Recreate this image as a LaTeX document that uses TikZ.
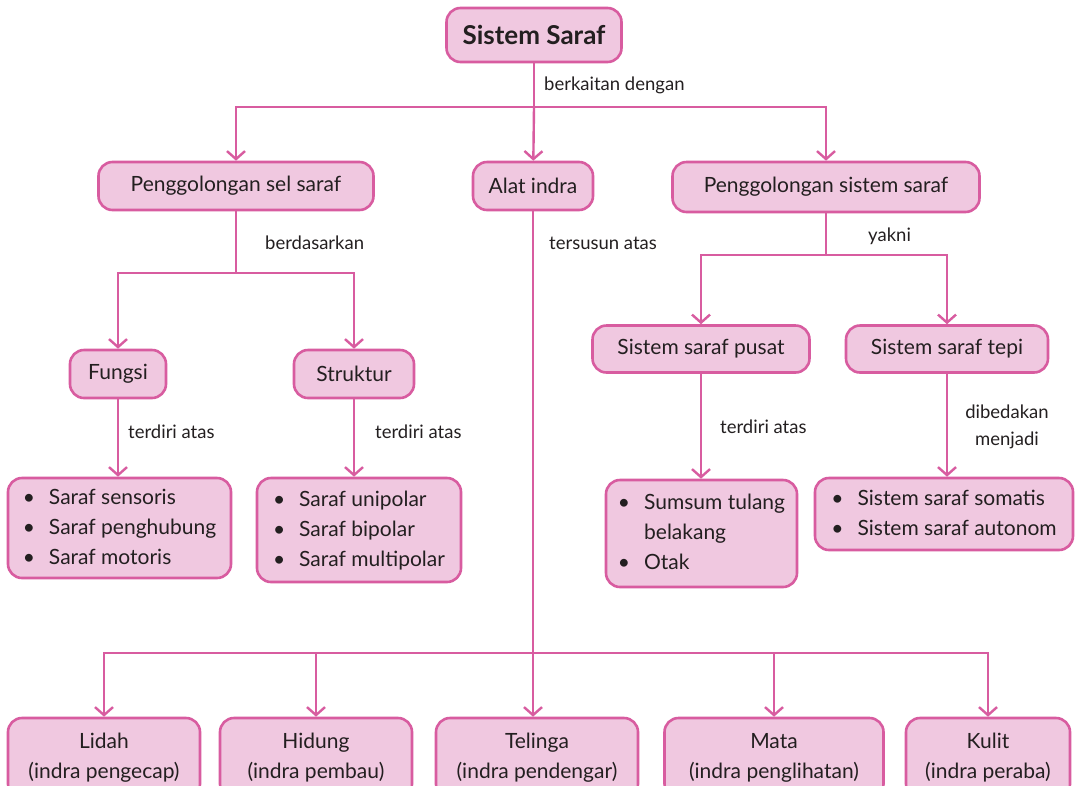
\documentclass[tikz,border=0pt]{standalone}
\usepackage{fontspec}
\setmainfont{Lato}
\usetikzlibrary{arrows.meta}
\definecolor{pk}{HTML}{D85CA0}
\definecolor{pkfill}{HTML}{F0C8E0}
\definecolor{txt}{HTML}{231F20}
\tikzset{
  box/.style={draw=pk, line width=2.6pt, fill=pkfill, rounded corners=14pt,
    inner sep=0pt, text=txt, align=center, font=\fontsize{21}{30}\selectfont},
  ln/.style={draw=pk, line width=2.4pt},
  arr/.style={ln, -{Straight Barb[length=8pt,width=18pt]}},
  lbl/.style={anchor=west, text=txt, inner sep=0pt, font=\fontsize{18.5}{27}\selectfont}
}
\newcommand{\blist}[1]{\begin{tabular}{@{}l@{\hspace{14pt}}l@{}}#1\end{tabular}}
\begin{document}
\begin{tikzpicture}[x=1pt,y=-1pt]
\path[fill=white] (0,0) rectangle (1075,785);
\useasboundingbox (0,0) rectangle (1075,785);
% nodes
\node[box, minimum width=175pt, minimum height=54pt, font=\fontsize{26}{30}\selectfont\bfseries] (top) at (534,35) {Sistem Saraf};
\node[box, minimum width=275pt, minimum height=48pt] (psel) at (236,186) {Penggolongan sel saraf};
\node[box, minimum width=120pt, minimum height=48pt] (alat) at (533,186) {Alat indra};
\node[box, minimum width=307pt, minimum height=50pt] (pss) at (826,187) {Penggolongan sistem saraf};
\node[box, minimum width=96pt, minimum height=48pt] (fungsi) at (118,374) {Fungsi};
\node[box, minimum width=120pt, minimum height=48pt] (struktur) at (354,374) {Struktur};
\node[box, minimum width=217pt, minimum height=47pt] (pusat) at (701,349) {Sistem saraf pusat};
\node[box, minimum width=202pt, minimum height=47pt] (tepi) at (947,349) {Sistem saraf tepi};
\node[box, minimum width=223pt, minimum height=100pt] (list1) at (119.5,528)
  {\blist{\textbullet & Saraf sensoris\\ \textbullet & Saraf penghubung\\ \textbullet & Saraf motoris}};
\node[box, minimum width=204pt, minimum height=104pt] (list2) at (359,530)
  {\blist{\textbullet & Saraf unipolar\\ \textbullet & Saraf bipolar\\ \textbullet & Saraf multipolar}};
\node[box, minimum width=191pt, minimum height=107pt] (list3) at (701.5,533.5)
  {\blist{\textbullet & Sumsum tulang\\ & belakang\\ \textbullet & Otak}};
\node[box, minimum width=258pt, minimum height=72pt] (list4) at (944,514)
  {\blist{\textbullet & Sistem saraf somatis\\ \textbullet & Sistem saraf autonom}};
\node[box, minimum width=192pt, minimum height=80pt] (lidah) at (104,758) {Lidah\\(indra pengecap)};
\node[box, minimum width=192pt, minimum height=80pt] (hidung) at (316,758) {Hidung\\(indra pembau)};
\node[box, minimum width=202pt, minimum height=80pt] (telinga) at (537,758) {Telinga\\(indra pendengar)};
\node[box, minimum width=219pt, minimum height=80pt] (mata) at (774,758) {Mata\\(indra penglihatan)};
\node[box, minimum width=164pt, minimum height=80pt] (kulit) at (988,758) {Kulit\\(indra peraba)};
% junctions
\coordinate (j1) at (534,107);
\coordinate (j2) at (236,273);
\coordinate (j3) at (826,255);
\coordinate (j4) at (533,653);
% connectors
\draw[ln] (top) -- (j1);
\draw[arr] (j1) -| (psel);
\draw[arr] (j1) -- (alat);
\draw[arr] (j1) -| (pss);
\draw[ln] (psel) -- (j2);
\draw[arr] (j2) -| (fungsi);
\draw[arr] (j2) -| (struktur);
\draw[arr] (fungsi) -- (fungsi |- list1.north);
\draw[arr] (struktur) -- (struktur |- list2.north);
\draw[ln] (pss) -- (j3);
\draw[arr] (j3) -| (pusat);
\draw[arr] (j3) -| (tepi);
\draw[arr] (pusat) -- (pusat |- list3.north);
\draw[arr] (tepi) -- (tepi |- list4.north);
\draw[ln] (alat) -- (j4);
\draw[arr] (j4) -| (lidah);
\draw[arr] (j4) -| (hidung);
\draw[arr] (j4) -- (j4 |- telinga.north);
\draw[arr] (j4) -| (mata);
\draw[arr] (j4) -| (kulit);
% labels
\node[lbl] (l1) at (544,85) {berkaitan dengan};
\node[lbl] (l2) at (265,243) {berdasarkan};
\node[lbl] (l3) at (549,243) {tersusun atas};
\node[lbl] (l4) at (868,236) {yakni};
\node[lbl] (l5) at (128,432) {terdiri atas};
\node[lbl] (l6) at (375,432) {terdiri atas};
\node[lbl] (l7) at (720,427) {terdiri atas};
\node[lbl, anchor=center, align=center] (l8) at (1007,427) {dibedakan\\menjadi};
\end{tikzpicture}
\end{document}
